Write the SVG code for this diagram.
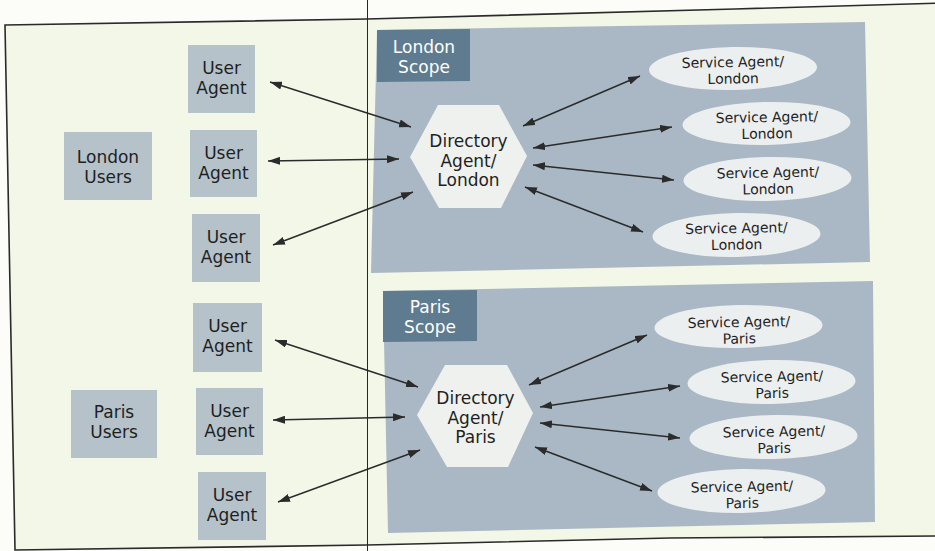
<svg xmlns="http://www.w3.org/2000/svg" width="935" height="551" viewBox="0 0 935 551">
  <style>
    .frame { fill: #f3f7e8; stroke: #2a2a2a; stroke-width: 1.6; }
    .panel { fill: #a9b8c4; }
    .label { fill: #5e7b8f; }
    .box { fill: #b5c2ca; }
    .hex { fill: #eef1ed; }
    .sa { fill: #eceff0; }
    .t { font-family: "DejaVu Sans", "Liberation Sans", sans-serif; font-size: 17px; fill: #1f1f1f; text-anchor: middle; }
    .tw { font-family: "DejaVu Sans", "Liberation Sans", sans-serif; font-size: 17px; fill: #ffffff; text-anchor: middle; }
    .ts { font-family: "DejaVu Sans", "Liberation Sans", sans-serif; font-size: 14px; fill: #1f1f1f; text-anchor: middle; }
    .link { stroke: #2b2b2b; stroke-width: 1.4; fill: none; marker-start: url(#head); marker-end: url(#head); }
  </style>
  <defs>
    <marker id="head" viewBox="0 0 12 8" refX="12" refY="4" markerWidth="12" markerHeight="8" markerUnits="userSpaceOnUse" orient="auto-start-reverse">
      <path d="M0,0 L12,4 L0,8 z" fill="#2b2b2b"/>
    </marker>
  </defs>

  <!-- page -->
  <rect x="0" y="0" width="935" height="551" fill="#fcfdf9"/>
  <polygon class="frame" points="5,25 367,19 735,9 945,3 945,536 670,538 367,545 15,550"/>

  <!-- scope panels -->
  <g id="london-scope">
    <polygon class="panel" points="377,30 865,22 870,262 371,273"/>
    <polygon class="label" points="377,30 470,29 470,81 377,82"/>
    <text class="tw" x="424" y="53">London<tspan x="424" dy="20">Scope</tspan></text>
  </g>
  <g id="paris-scope">
    <polygon class="panel" points="383,291 873,281 875,522 388,533"/>
    <polygon class="label" points="383,291 477,290 477,341 383,342"/>
    <text class="tw" x="430" y="313">Paris<tspan x="430" dy="20">Scope</tspan></text>
  </g>

  <!-- user groups -->
  <g id="london-users">
    <rect class="box" x="64" y="132" width="88" height="68"/>
    <text class="t" x="108" y="163">London<tspan x="108" dy="20">Users</tspan></text>
  </g>
  <g id="paris-users">
    <rect class="box" x="71" y="390" width="86" height="68"/>
    <text class="t" x="114" y="418">Paris<tspan x="114" dy="20">Users</tspan></text>
  </g>

  <!-- user agents -->
  <g id="ua-london-1">
    <rect class="box" x="188" y="45" width="67" height="68"/>
    <text class="t" x="221.5" y="74">User<tspan x="221.5" dy="20">Agent</tspan></text>
  </g>
  <g id="ua-london-2">
    <rect class="box" x="190" y="130" width="67" height="67"/>
    <text class="t" x="223.5" y="159">User<tspan x="223.5" dy="20">Agent</tspan></text>
  </g>
  <g id="ua-london-3">
    <rect class="box" x="192" y="214" width="68" height="68"/>
    <text class="t" x="226" y="243">User<tspan x="226" dy="20">Agent</tspan></text>
  </g>
  <g id="ua-paris-1">
    <rect class="box" x="193" y="303" width="69" height="69"/>
    <text class="t" x="227.5" y="332">User<tspan x="227.5" dy="20">Agent</tspan></text>
  </g>
  <g id="ua-paris-2">
    <rect class="box" x="196" y="388" width="67" height="67"/>
    <text class="t" x="229.5" y="417">User<tspan x="229.5" dy="20">Agent</tspan></text>
  </g>
  <g id="ua-paris-3">
    <rect class="box" x="198" y="472" width="68" height="68"/>
    <text class="t" x="232" y="501">User<tspan x="232" dy="20">Agent</tspan></text>
  </g>

  <!-- directory agents -->
  <g id="da-london">
    <polygon class="hex" points="410,157 438,105 499,105 527,156 501,208 439,208"/>
    <text class="t" x="468.5" y="147">Directory<tspan x="468.5" dy="19.5">Agent/</tspan><tspan x="468.5" dy="19.5">London</tspan></text>
  </g>
  <g id="da-paris">
    <polygon class="hex" points="417,415 445,365 507,365 533,413 508,467 447,467"/>
    <text class="t" x="475.5" y="404">Directory<tspan x="475.5" dy="19.5">Agent/</tspan><tspan x="475.5" dy="19.5">Paris</tspan></text>
  </g>

  <!-- service agents -->
  <g id="sa-london-1" transform="rotate(-1 733 68.5)">
    <ellipse class="sa" cx="733" cy="68.5" rx="84" ry="21.5"/>
    <text class="ts" x="733" y="67">Service Agent/<tspan x="733" dy="16.5">London</tspan></text>
  </g>
  <g id="sa-london-2" transform="rotate(-1 766.5 123.5)">
    <ellipse class="sa" cx="766.5" cy="123.5" rx="84" ry="21.5"/>
    <text class="ts" x="767" y="122">Service Agent/<tspan x="767" dy="16.5">London</tspan></text>
  </g>
  <g id="sa-london-3" transform="rotate(-1 767.5 179)">
    <ellipse class="sa" cx="767.5" cy="179" rx="84" ry="22"/>
    <text class="ts" x="768" y="177.5">Service Agent/<tspan x="768" dy="16.5">London</tspan></text>
  </g>
  <g id="sa-london-4" transform="rotate(-1 736.5 235)">
    <ellipse class="sa" cx="736.5" cy="235" rx="84" ry="22"/>
    <text class="ts" x="736.5" y="233">Service Agent/<tspan x="736.5" dy="16.5">London</tspan></text>
  </g>
  <g id="sa-paris-1" transform="rotate(-1 738.5 326.5)">
    <ellipse class="sa" cx="738.5" cy="326.5" rx="84" ry="21.5"/>
    <text class="ts" x="739" y="327">Service Agent/<tspan x="739" dy="16.5">Paris</tspan></text>
  </g>
  <g id="sa-paris-2" transform="rotate(-1 771.5 382)">
    <ellipse class="sa" cx="771.5" cy="382" rx="84" ry="22"/>
    <text class="ts" x="772" y="381.5">Service Agent/<tspan x="772" dy="16.5">Paris</tspan></text>
  </g>
  <g id="sa-paris-3" transform="rotate(-1 773.5 437)">
    <ellipse class="sa" cx="773.5" cy="437" rx="84" ry="22"/>
    <text class="ts" x="774" y="436.5">Service Agent/<tspan x="774" dy="16.5">Paris</tspan></text>
  </g>
  <g id="sa-paris-4" transform="rotate(-1 741.5 491)">
    <ellipse class="sa" cx="741.5" cy="491" rx="84" ry="22"/>
    <text class="ts" x="742" y="491.5">Service Agent/<tspan x="742" dy="16.5">Paris</tspan></text>
  </g>

  <!-- connectors -->
  <g id="connectors">
    <line class="link" x1="270" y1="82" x2="411" y2="127"/>
    <line class="link" x1="268" y1="161" x2="399" y2="159"/>
    <line class="link" x1="273" y1="245" x2="413" y2="192"/>
    <line class="link" x1="523" y1="126" x2="640" y2="76"/>
    <line class="link" x1="533" y1="148" x2="672" y2="127"/>
    <line class="link" x1="533" y1="165" x2="674" y2="180"/>
    <line class="link" x1="525" y1="187" x2="643" y2="232"/>
    <line class="link" x1="275" y1="340" x2="418" y2="387"/>
    <line class="link" x1="273" y1="420" x2="405" y2="417"/>
    <line class="link" x1="278" y1="502" x2="420" y2="450"/>
    <line class="link" x1="529" y1="385" x2="647" y2="335"/>
    <line class="link" x1="540" y1="407" x2="680" y2="386"/>
    <line class="link" x1="540" y1="423" x2="680" y2="438"/>
    <line class="link" x1="535" y1="447" x2="652" y2="491"/>
  </g>

  <!-- fold line across the page -->
  <line x1="367.5" y1="0" x2="367.5" y2="551" stroke="#262626" stroke-width="1"/>
</svg>
